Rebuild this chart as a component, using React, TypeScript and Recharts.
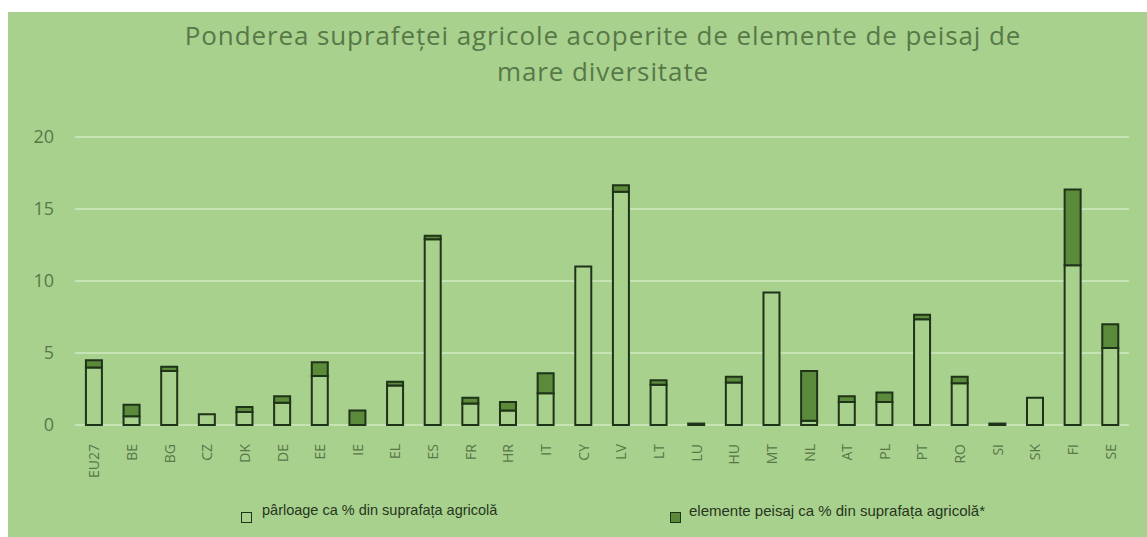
import React from "react";
import { BarChart, Bar, XAxis, YAxis, CartesianGrid } from "recharts";

const countries = [
  "EU27", "BE", "BG", "CZ", "DK", "DE", "EE", "IE", "EL", "ES", "FR", "HR", "IT", "CY",
  "LV", "LT", "LU", "HU", "MT", "NL", "AT", "PL", "PT", "RO", "SI", "SK", "FI", "SE",
];
const parloage = [
  4.0, 0.6, 3.75, 0.75, 0.9, 1.55, 3.4, 0.0, 2.75, 12.9, 1.5, 1.0, 2.2, 11.0,
  16.2, 2.8, 0.1, 2.95, 9.2, 0.3, 1.6, 1.6, 7.35, 2.9, 0.1, 1.9, 11.1, 5.35,
];
const peisaj = [
  0.5, 0.8, 0.3, 0.0, 0.35, 0.45, 0.95, 1.0, 0.25, 0.25, 0.4, 0.6, 1.4, 0.0,
  0.45, 0.3, 0.0, 0.4, 0.0, 3.45, 0.4, 0.65, 0.3, 0.45, 0.0, 0.0, 5.25, 1.65,
];
const yTicks = [0, 5, 10, 15, 20];

const data = countries.map((c, i) => ({ country: c, parloage: parloage[i], peisaj: peisaj[i] }));

const BG = "#a9d18e";
const DARK = "#5a8a3a";
const EDGE = "#1e3318";
const LABEL = "#587848";

const XTick = (props: any) => {
  const { x, y, payload } = props;
  return (
    <text
      x={x}
      y={y}
      transform={`rotate(-90 ${x} ${y})`}
      textAnchor="end"
      dominantBaseline="central"
      fill={LABEL}
      fontSize={14}
      fontFamily="Open Sans"
    >
      {payload.value}
    </text>
  );
};

const Swatch = ({ fill }: { fill: string }) => (
  <span
    style={{
      display: "inline-block",
      width: 9,
      height: 9,
      background: fill,
      border: `1.5px solid ${EDGE}`,
      position: "absolute",
      top: 10,
      left: 0,
    }}
  />
);

export default function App() {
  return (
    <div
      style={{
        position: "absolute",
        left: 8,
        top: 12,
        width: 1139,
        height: 525,
        background: BG,
        overflow: "hidden",
      }}
    >
      <div
        style={{
          position: "absolute",
          top: 5,
          left: 0,
          width: 1190,
          textAlign: "center",
          fontFamily: "Open Sans",
          fontSize: 26,
          letterSpacing: 0.9,
          lineHeight: "36px",
          color: LABEL,
        }}
      >
        Ponderea suprafeței agricole acoperite de elemente de peisaj de
        <br />
        mare diversitate
      </div>
      <BarChart
        width={1139}
        height={525}
        data={data}
        margin={{ top: 125, right: 18, left: 0, bottom: 60 }}
        barCategoryGap="29%"
      >
        <CartesianGrid vertical={false} stroke="#cfe8bf" strokeWidth={1.5} />
        <XAxis
          dataKey="country"
          axisLine={false}
          tickLine={false}
          interval={0}
          height={52}
          tick={<XTick />}
          tickMargin={13}
        />
        <YAxis
          width={67}
          domain={[0, 20]}
          ticks={yTicks}
          axisLine={false}
          tickLine={false}
          tickMargin={15}
          tick={{ fill: LABEL, fontSize: 18, fontFamily: "Open Sans" }}
        />
        <Bar dataKey="parloage" stackId="a" fill={BG} stroke={EDGE} strokeWidth={2} isAnimationActive={false} />
        <Bar dataKey="peisaj" stackId="a" fill={DARK} stroke={EDGE} strokeWidth={2} isAnimationActive={false} />
      </BarChart>
      <div
        style={{
          position: "absolute",
          top: 490,
          left: 233,
          fontFamily: "Liberation Sans",
          fontSize: 14.5,
          color: "#26361d",
          paddingLeft: 21,
        }}
      >
        <Swatch fill={BG} />
        pârloage ca % din suprafața agricolă
      </div>
      <div
        style={{
          position: "absolute",
          top: 490,
          left: 662,
          fontFamily: "Liberation Sans",
          fontSize: 15,
          color: "#26361d",
          paddingLeft: 19,
        }}
      >
        <Swatch fill={DARK} />
        elemente peisaj ca % din suprafața agricolă*
      </div>
    </div>
  );
}
